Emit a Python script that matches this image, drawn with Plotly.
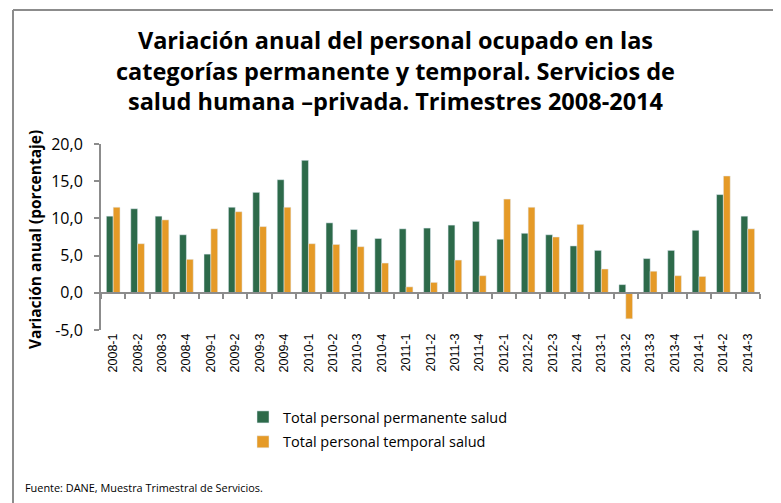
import plotly.graph_objects as go

categories = ["2008-1","2008-2","2008-3","2008-4","2009-1","2009-2","2009-3","2009-4",
              "2010-1","2010-2","2010-3","2010-4","2011-1","2011-2","2011-3","2011-4",
              "2012-1","2012-2","2012-3","2012-4","2013-1","2013-2","2013-3","2013-4",
              "2014-1","2014-2","2014-3"]
permanente = [10.3, 11.3, 10.3, 7.8, 5.2, 11.5, 13.5, 15.2,
              17.8, 9.4, 8.5, 7.3, 8.6, 8.7, 9.1, 9.6,
              7.2, 8.0, 7.8, 6.3, 5.7, 1.1, 4.6, 5.7,
              8.4, 13.2, 10.3]
temporal = [11.5, 6.6, 9.8, 4.5, 8.6, 10.9, 8.9, 11.5,
            6.6, 6.5, 6.2, 4.0, 0.8, 1.4, 4.4, 2.3,
            12.6, 11.5, 7.5, 9.2, 3.2, -3.5, 2.9, 2.3,
            2.2, 15.7, 8.6]
y_ticks = [-5, 0, 5, 10, 15, 20]
y_tick_labels = ["-5,0", "0,0", "5,0", "10,0", "15,0", "20,0"]

title_text = ("Variación anual del personal ocupado en las<br>"
              "categorías permanente y temporal. Servicios de<br>"
              "salud humana –privada. Trimestres 2008-2014")

GREEN = "#2d6a4a"
ORANGE = "#e59a27"
GRAY = "#8c8c8c"

OFF = 8  # browser body margin
W, H = 781 - OFF, 503 - OFF
L = 101 - OFF
T = 144 - OFF
R = W - (760 - OFF)
B = H - (330 - OFF)
pw, ph = W - L - R, H - T - B
def px(x): return (x - OFF - L) / pw
def py(y): return (H - B - (y - OFF)) / ph

fig = go.Figure()
fig.add_trace(go.Bar(x=categories, y=permanente, name="Total personal permanente salud",
                     marker_color=GREEN, legendgroup="a"))
fig.add_trace(go.Bar(x=categories, y=temporal, name="Total personal temporal salud",
                     marker_color=ORANGE, legendgroup="b"))

zero_pos = (0 - y_ticks[0]) / (y_ticks[-1] - y_ticks[0])

fig.update_layout(
    width=W, height=H,
    margin=dict(l=L, r=R, t=T, b=B, pad=0),
    paper_bgcolor="white", plot_bgcolor="white",
    barmode="group", bargap=0.44, bargroupgap=0,
    separators=",.",
    font=dict(family="Open Sans", color="black"),
    showlegend=True,
    legend=dict(x=px(243), y=py(401), xanchor="left", yanchor="top",
                font=dict(family="Open Sans", size=14.5, color="black"),
                bgcolor="rgba(0,0,0,0)", itemwidth=30, traceorder="grouped",
                tracegroupgap=3),
    xaxis=dict(type="category", categoryarray=categories, range=[-0.5, len(categories) - 0.5],
               showline=False, ticks="", tickangle=-90,
               tickfont=dict(family="Liberation Sans", size=12.5, color="black"),
               showgrid=False, zeroline=False, fixedrange=True),
    xaxis2=dict(type="category", categoryarray=categories, range=[-0.5, len(categories) - 0.5],
                overlaying="x", anchor="free", position=zero_pos, side="bottom",
                showline=True, linecolor=GRAY, linewidth=2,
                ticks="outside", tickson="boundaries", ticklen=5, tickwidth=2, tickcolor=GRAY,
                showticklabels=False, showgrid=False, zeroline=False),
    yaxis=dict(range=[y_ticks[0], y_ticks[-1]], tickvals=y_ticks, ticktext=y_tick_labels,
               showline=True, linecolor=GRAY, linewidth=2,
               ticks="outside", ticklen=5, tickwidth=2, tickcolor=GRAY,
               ticklabelstandoff=8,
               tickfont=dict(family="Open Sans", size=16, color="black"),
               showgrid=False, zeroline=False),
)

# invisible helper trace so the zero-line axis is drawn
fig.add_trace(go.Scatter(x=categories, y=[0] * len(categories), xaxis="x2", yaxis="y",
                         mode="none", showlegend=False, hoverinfo="skip"))

fig.add_annotation(text=title_text, xref="paper", yref="paper", x=px(395), y=py(22),
                   xanchor="center", yanchor="top", showarrow=False, align="center",
                   font=dict(family="Open Sans", size=23.5, color="black", weight="bold"))
fig.add_annotation(text="<b>Variación anual (porcentaje)</b>", xref="paper", yref="paper",
                   x=px(35), y=py(240), xanchor="center", yanchor="middle", textangle=-90,
                   showarrow=False, font=dict(family="Open Sans", size=15.5, color="black"))
fig.add_annotation(text="Fuente: DANE, Muestra Trimestral de Servicios.", xref="paper",
                   yref="paper", x=px(23), y=py(487), xanchor="left", yanchor="middle",
                   showarrow=False, font=dict(family="Open Sans", size=10.9, color="black"))

# outer frame (left, top, right)
for x0, y0, x1, y1 in [(13, 10, 13, 520), (13, 10, 777, 10), (777, 10, 777, 520)]:
    fig.add_shape(type="line", xref="paper", yref="paper", x0=px(x0), y0=py(y0),
                  x1=px(x1), y1=py(y1), line=dict(color=GRAY, width=2))

fig.write_html("out.html")
